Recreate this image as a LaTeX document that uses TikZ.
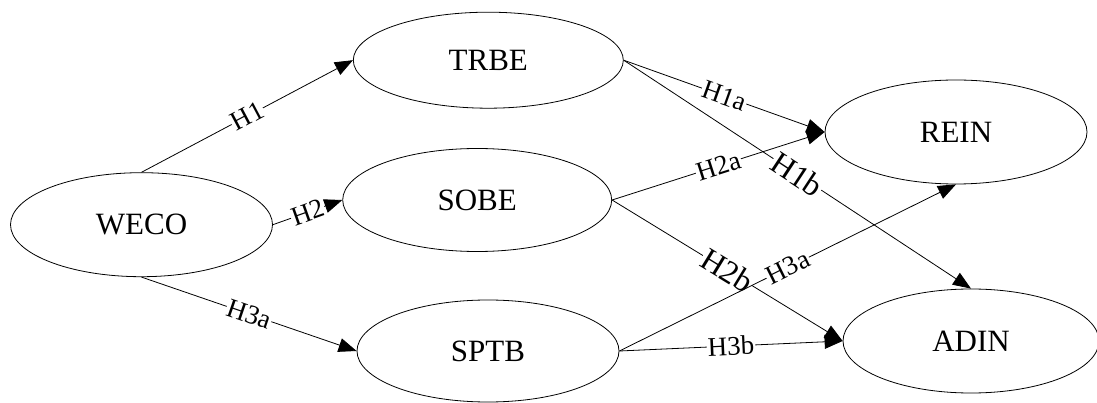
\documentclass[tikz,border=0pt]{standalone}
\usepackage{fontspec}
\setmainfont{Liberation Serif}
\usetikzlibrary{shapes.geometric,arrows.meta}
\begin{document}
\begin{tikzpicture}[x=1pt,y=-1pt,
  vnode/.style={draw,ellipse,inner sep=0pt,line width=0.8pt,font=\fontsize{31}{31}\selectfont},
  edge/.style={line width=0.8pt,-{Triangle[length=18pt,width=14pt]}},
  lab/.style={sloped,fill=white,inner sep=1pt,font=\fontsize{27}{27}\selectfont},
  biglab/.style={lab,font=\fontsize{32}{32}\selectfont}]
\useasboundingbox (0,0) rectangle (1097,403);
\node[vnode,minimum width=262pt,minimum height=104pt] (weco) at (141.5,224.7) {WECO};
\node[vnode,minimum width=270pt,minimum height=96pt] (trbe) at (488.3,60.2) {TRBE};
\node[vnode,minimum width=269pt,minimum height=103pt] (sobe) at (477.2,200) {SOBE};
\node[vnode,minimum width=262pt,minimum height=102pt] (sptb) at (488,351) {SPTB};
\node[vnode,minimum width=262pt,minimum height=104pt] (rein) at (956,132) {REIN};
\node[vnode,minimum width=256pt,minimum height=104pt] (adin) at (971,341) {ADIN};
\draw[edge] (weco.north) -- node[lab] {H1} (trbe.west);
\draw[edge] (weco.east) -- node[lab] {H2} (sobe.west);
\draw[edge] (weco.south) -- node[lab] {H3a} (sptb.west);
\draw[edge] (trbe.east) -- node[lab] {H1a} (rein.west);
\draw[edge] (trbe.east) -- node[biglab] {H1b} (adin.north);
\draw[edge] (sobe.east) -- node[lab] {H2a} (rein.west);
\draw[edge] (sobe.east) -- node[biglab] {H2b} (adin.west);
\draw[edge] (sptb.east) -- node[lab] {H3a} (rein.south);
\draw[edge] (sptb.east) -- node[lab] {H3b} (adin.west);
\end{tikzpicture}
\end{document}
